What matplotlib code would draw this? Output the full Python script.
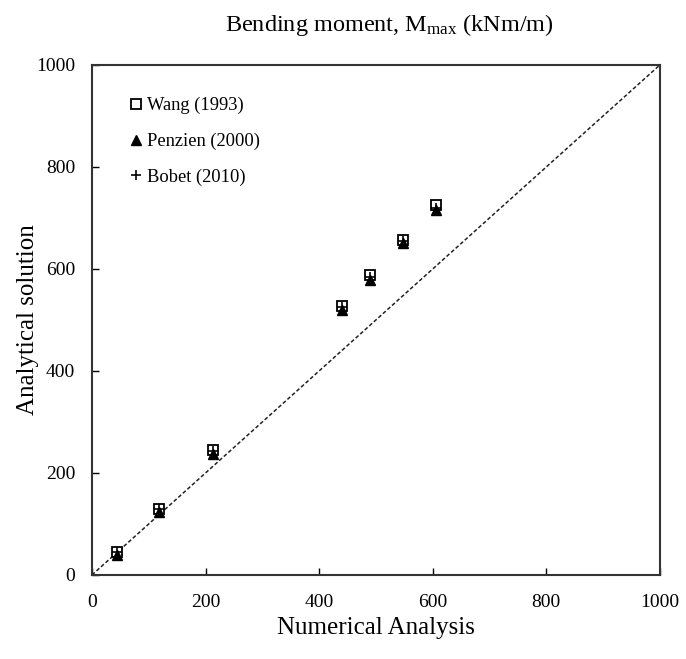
import matplotlib
matplotlib.use("Agg")
import matplotlib.pyplot as plt

# numerical vs analytical bending moment (kNm/m)
numerical = [44, 118, 213, 440, 489, 547, 606]
wang = [45, 130, 245, 528, 588, 657, 725]
penzien = [40, 124, 238, 520, 578, 650, 715]
bobet = [46, 129, 243, 525, 585, 655, 720]
ticks = [0, 200, 400, 600, 800, 1000]

plt.rcParams["font.family"] = ["Liberation Serif", "DejaVu Serif"]
plt.rcParams["mathtext.fontset"] = "custom"
plt.rcParams["mathtext.rm"] = "Liberation Serif"
plt.rcParams["mathtext.it"] = "Liberation Serif:italic"

fig = plt.figure(figsize=(6.86, 6.59), dpi=100)
ax = fig.add_axes([0.134, 0.1275, 0.828, 0.774])

ax.plot([0, 1000], [0, 1000], color="#222222", ls=(0, (2.5, 1.5)), lw=1.1, zorder=1)
ax.plot(numerical, wang, ls="none", marker="s", ms=7.5, mfc="white", mec="black",
        mew=1.3, label="Wang (1993)", zorder=2)
ax.plot(numerical, penzien, ls="none", marker="^", ms=6.5, color="black",
        label="Penzien (2000)", zorder=3)
ax.plot(numerical, bobet, ls="none", marker="+", ms=7, color="black", mew=1.2,
        label="Bobet (2010)", zorder=4)

ax.set_xlim(0, 1000)
ax.set_ylim(0, 1000)
ax.set_xticks(ticks)
ax.set_yticks(ticks)
ax.tick_params(direction="in", length=5, width=1, labelsize=14)
ax.tick_params(axis="x", pad=14)
ax.tick_params(axis="y", pad=12)
for sp in ax.spines.values():
    sp.set_linewidth(1.5)
    sp.set_color("#333333")

ax.set_xlabel("Numerical Analysis", fontsize=18, labelpad=4)
ax.set_ylabel("Analytical solution", fontsize=18, labelpad=-2)
fig.text(0.568, 0.962, r"Bending moment, M$_{\mathrm{max}}$ (kNm/m)", fontsize=17.5,
         ha="center", va="center")

ax.legend(loc="upper left", frameon=False, fontsize=13.3, handletextpad=0.05,
          handlelength=1.1, labelspacing=1.0, borderaxespad=1.2,
          bbox_to_anchor=(0.008, 0.995))

fig.savefig("out.png", dpi=100)
